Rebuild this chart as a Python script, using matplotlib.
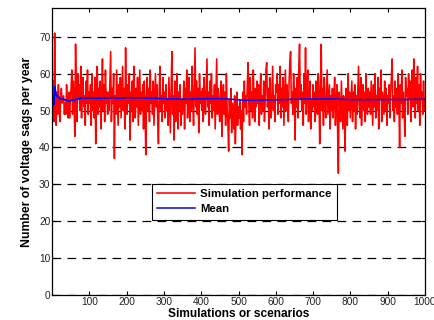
import numpy as np
import matplotlib
matplotlib.use("Agg")
import matplotlib.pyplot as plt

# Simulated number of voltage sags per year (read approx. from the picture, every other simulation)
sags = [
    50, 58, 47, 71, 52, 46, 55, 49, 57, 51, 47, 53, 56, 52, 53, 54, 49, 52, 49, 57, 51, 48, 55, 48, 53,
    56, 61, 49, 58, 52, 43, 68, 55, 47, 60, 53, 57, 50, 62, 48, 56, 59, 51, 54, 46, 58, 52, 61, 49, 55,
    52, 57, 46, 60, 50, 55, 48, 59, 41, 54, 62, 49, 56, 51, 58, 45, 53, 64, 50, 57, 47, 61, 52, 55, 49,
    55, 50, 58, 66, 47, 56, 52, 60, 37, 54, 49, 61, 53, 46, 57, 51, 59, 48, 55, 62, 50, 56, 45, 67, 53,
    49, 57, 52, 60, 42, 55, 50, 58, 47, 62, 53, 48, 56, 51, 59, 46, 54, 61, 49, 55, 50, 57, 45, 58, 52,
    38, 54, 59, 50, 56, 47, 61, 52, 55, 49, 58, 46, 53, 60, 51, 57, 48, 41, 55, 62, 50, 54, 47, 59, 52,
    55, 48, 57, 50, 53, 46, 59, 51, 44, 56, 66, 49, 54, 42, 58, 47, 52, 60, 45, 55, 50, 57, 46, 53, 49,
    51, 58, 45, 56, 52, 61, 48, 54, 59, 47, 55, 50, 62, 53, 46, 57, 67, 51, 58, 49, 56, 44, 60, 52, 55,
    50, 56, 47, 59, 53, 49, 57, 64, 51, 55, 46, 58, 52, 60, 48, 54, 50, 57, 45, 55, 64, 49, 56, 52, 47,
    54, 58, 43, 52, 57, 49, 55, 46, 60, 51, 47, 39, 53, 48, 56, 44, 52, 50, 45, 54, 41, 49, 55, 46, 51,
    48, 53, 45, 50, 38, 55, 47, 58, 51, 54, 49, 57, 63, 52, 46, 59, 50, 55, 48, 61, 53, 47, 56, 51, 58,
    52, 57, 46, 55, 60, 49, 54, 50, 58, 47, 53, 61, 63, 51, 56, 45, 59, 52, 48, 55, 62, 50, 54, 47, 57,
    55, 60, 49, 57, 52, 62, 48, 56, 51, 59, 46, 54, 61, 50, 57, 53, 47, 58, 63, 66, 52, 55, 49, 60, 54,
    42, 56, 51, 59, 48, 62, 68, 53, 57, 50, 55, 46, 60, 52, 67, 49, 56, 61, 47, 54, 58, 45, 53, 50, 57,
    51, 55, 47, 58, 52, 49, 60, 54, 41, 57, 68, 50, 56, 46, 59, 52, 48, 55, 61, 49, 53, 57, 45, 54, 50,
    56, 48, 53, 59, 46, 52, 57, 44, 33, 55, 50, 47, 58, 51, 45, 54, 49, 39, 56, 52, 46, 60, 50, 55, 48,
    53, 58, 47, 55, 50, 57, 45, 54, 49, 56, 62, 51, 48, 59, 46, 53, 57, 50, 55, 47, 60, 52, 49, 56, 51,
    55, 49, 58, 52, 46, 57, 51, 60, 48, 54, 50, 59, 45, 56, 53, 61, 47, 55, 52, 49, 58, 50, 56, 46, 54,
    52, 57, 48, 55, 59, 64, 50, 54, 47, 58, 51, 56, 49, 60, 53, 40, 57, 52, 61, 48, 55, 50, 43, 59, 54,
    56, 49, 60, 53, 58, 47, 55, 61, 51, 64, 54, 48, 59, 52, 62, 50, 57, 46, 60, 53, 55, 49, 58, 52, 50,
]
n_sim = 1000
x_ticks = [100, 200, 300, 400, 500, 600, 700, 800, 900, 1000]
y_ticks = [0, 10, 20, 30, 40, 50, 60, 70]

vals = np.array(sags, dtype=float)
xs = np.linspace(1, n_sim, len(vals))
running_mean = np.cumsum(vals) / np.arange(1, len(vals) + 1)

plt.rcParams['font.family'] = ['Liberation Sans', 'DejaVu Sans']

fig = plt.figure(figsize=(4.35, 3.2), dpi=100)
ax = fig.add_axes([0.1205, 0.078, 0.8565, 0.897])

ax.plot(xs, vals, color=(1, 0, 0), lw=1.15, label='Simulation performance')
ax.plot(xs, running_mean, color=(0, 0, 1), lw=1.1, label='Mean')

ax.set_xlim(1, n_sim)
ax.set_ylim(0, 77.8)
ax.set_xticks(x_ticks)
ax.set_yticks(y_ticks)
ax.tick_params(direction='in', length=3, width=0.8, labelsize=7.3, top=True, right=True,
               colors='black', labelcolor='#222222', pad=1.5)
for s in ax.spines.values():
    s.set_linewidth(0.9)
    s.set_color('black')

ax.yaxis.grid(True, linestyle=(0, (7, 5)), color='black', linewidth=0.9)
ax.xaxis.grid(False)
ax.set_axisbelow(True)

ax.set_xlabel('Simulations or scenarios', fontsize=8.6, fontweight='bold', labelpad=0.3)
ax.set_ylabel('Number of voltage sags per year', fontsize=8.8, fontweight='bold', labelpad=4)

leg = ax.legend(loc='lower left', bbox_to_anchor=(0.267, 0.263), borderaxespad=0,
                fancybox=False, framealpha=1, edgecolor='black',
                prop={'size': 8.2, 'weight': 'bold'}, handlelength=3.3,
                borderpad=0.45, labelspacing=0.45, handletextpad=0.5)
leg.get_frame().set_linewidth(0.8)
leg.set_zorder(5)

fig.savefig('out.png', dpi=100)
